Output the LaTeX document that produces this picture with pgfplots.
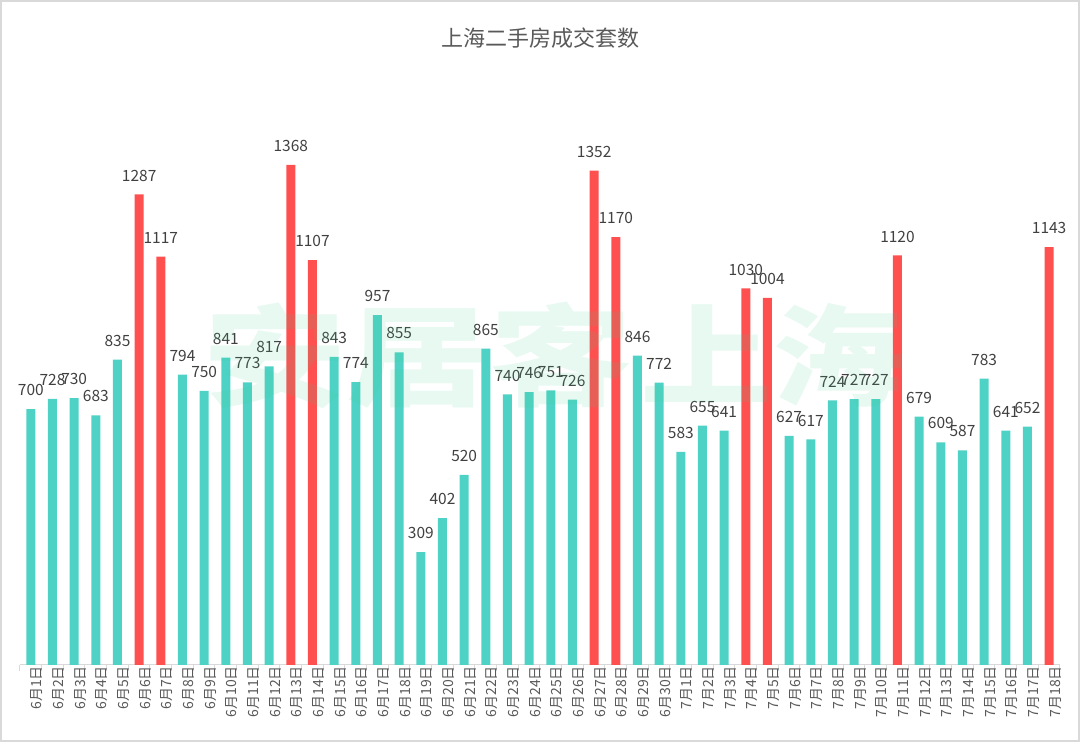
\documentclass[border=0pt]{standalone}
\usepackage{pgfplots}
\pgfplotsset{compat=1.18}
\usepackage{fontspec}
\setmainfont{Noto Sans CJK SC}
\definecolor{teal}{HTML}{4ED2C5}
\definecolor{redb}{HTML}{FF5050}
\definecolor{gridc}{HTML}{D9D9D9}
\definecolor{txt}{HTML}{404040}
\definecolor{ttl}{HTML}{595959}
\definecolor{wm}{HTML}{3CCB8A}
\begin{document}
\begin{tikzpicture}
\begin{axis}[name=ax,
  scale only axis, width=1040pt, height=585pt,
  xmin=-0.5, xmax=47.5, ymin=0, ymax=1600,
  axis x line=bottom, axis y line=none,
  x axis line style={-, draw=gridc, line width=1pt},
  ytick={200,400,...,1600}, yticklabels={},
  y tick style={draw=none},
  ymajorgrids, grid style={dashed, draw=gridc, line width=0.8pt},
  xtick={-0.5,0.5,...,47.5}, xticklabels={},
  x tick style={draw=gridc, line width=1pt},
  major tick length=6pt, tick align=outside,
  extra x ticks={0,...,47},
  extra x tick labels={6月1日,6月2日,6月3日,6月4日,6月5日,6月6日,6月7日,6月8日,6月9日,6月10日,6月11日,6月12日,6月13日,6月14日,6月15日,6月16日,6月17日,6月18日,6月19日,6月20日,6月21日,6月22日,6月23日,6月24日,6月25日,6月26日,6月27日,6月28日,6月29日,6月30日,7月1日,7月2日,7月3日,7月4日,7月5日,7月6日,7月7日,7月8日,7月9日,7月10日,7月11日,7月12日,7月13日,7月14日,7月15日,7月16日,7月17日,7月18日},
  extra x tick style={major tick length=0pt, xmajorgrids=false,
    xticklabel style={rotate=90, anchor=east, font=\fontsize{14}{14}\selectfont, text=ttl, inner sep=1pt, yshift=-6pt}},
  ybar, bar width=9pt,
  nodes near coords,
  /pgf/number format/1000 sep={},
  /pgf/number format/assume math mode=true,
  nodes near coords style={font=\fontsize{15.5}{16}\selectfont, text=txt, anchor=south, inner sep=0pt, yshift=13pt},
  clip=false,
]
\addplot[fill=teal, draw=none, bar shift=0pt] coordinates {
(0,700) (1,728) (2,730) (3,683) (4,835) (7,794) (8,750) (9,841) (10,773) (11,817)
(14,843) (15,774) (16,957) (17,855) (18,309) (19,402) (20,520) (21,865) (22,740) (23,746) (24,751) (25,726)
(28,846) (29,772) (30,583) (31,655) (32,641) (35,627) (36,617) (37,724) (38,727) (39,727)
(41,679) (42,609) (43,587) (44,783) (45,641) (46,652)
};
\addplot[fill=redb, draw=none, bar shift=0pt] coordinates {
(5,1287) (6,1117) (12,1368) (13,1107) (26,1352) (27,1170) (33,1030) (34,1004) (40,1120) (47,1143)
};
\end{axis}
\node[text=wm, opacity=0.12, font=\fontsize{110}{110}\selectfont\bfseries, anchor=center, xscale=1.3] at ([shift={(398pt,310pt)}]ax.south west) {安居客};
\node[text=wm, opacity=0.12, font=\fontsize{110}{110}\selectfont\bfseries, anchor=center, xscale=1.2] at ([shift={(752pt,310pt)}]ax.south west) {上海};
\node[text=ttl, font=\fontsize{22}{24}\selectfont, anchor=center] at ([shift={(520pt,627pt)}]ax.south west) {上海二手房成交套数};
\pgfresetboundingbox
\path[use as bounding box] ([shift={(-20pt,-77pt)}]ax.south west) rectangle ([shift={(1060pt,665pt)}]ax.south west);
\draw[draw=gridc, line width=2pt] ([shift={(-19pt,-76pt)}]ax.south west) rectangle ([shift={(1059pt,664pt)}]ax.south west);
\end{tikzpicture}
\end{document}
